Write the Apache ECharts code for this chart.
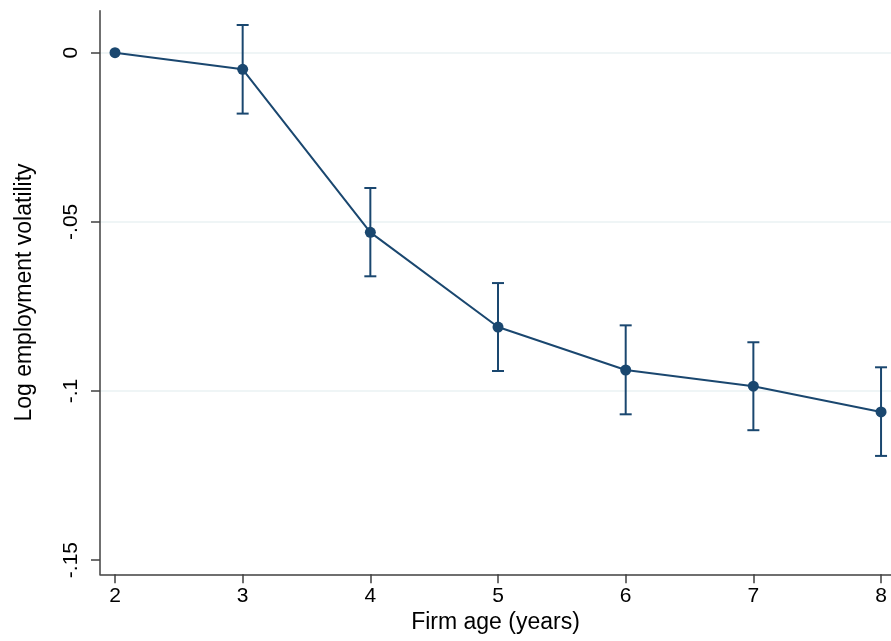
<!DOCTYPE html>
<html>
<head>
<meta charset="utf-8">
<script src="https://cdn.jsdelivr.net/npm/echarts@6/dist/echarts.min.js"></script>
<style>html,body{margin:0;padding:0;background:#fff}#c{width:891px;height:641px}</style>
</head>
<body>
<div id="c"></div>
<script>
var ages = [2, 3, 4, 5, 6, 7, 8];
var estimates = [0, -0.0049, -0.0531, -0.0811, -0.0938, -0.0986, -0.1062];
var ciLower = [null, -0.0180, -0.0661, -0.0941, -0.1069, -0.1116, -0.1192];
var ciUpper = [null, 0.0082, -0.0400, -0.0681, -0.0806, -0.0856, -0.0930];
var xTicks = [2, 3, 4, 5, 6, 7, 8];
var yTicks = [0, -0.05, -0.1, -0.15];
var yTickLabels = ['0', '-.05', '-.1', '-.15'];
var gridValues = [0, -0.05, -0.1];

var navy = '#1a476f';
var font = '"Liberation Sans", Arial, sans-serif';

var lineData = ages.map(function (a, i) { return [a, estimates[i]]; });
var ciData = [];
ages.forEach(function (a, i) {
  if (ciLower[i] !== null) ciData.push([a, ciLower[i], ciUpper[i]]);
});

var chart = echarts.init(document.getElementById('c'), null, {renderer: 'canvas'});
chart.setOption({
  animation: false,
  backgroundColor: '#fff',
  grid: {left: 100, top: 10.7, right: 0, bottom: 66.7, containLabel: false},
  xAxis: {
    type: 'value',
    min: 1.8826, max: 8.078,
    name: 'Firm age (years)',
    nameLocation: 'middle',
    nameGap: 37,
    nameTextStyle: {fontFamily: font, fontSize: 23, color: '#000'},
    axisLine: {show: true, onZero: false, lineStyle: {color: '#404040', width: 1.5}},
    axisTick: {show: true, length: 9, customValues: xTicks, lineStyle: {color: '#404040', width: 1.5}},
    axisLabel: {customValues: xTicks, margin: 11, fontFamily: font, fontSize: 21, color: '#000',
      formatter: function (v) { return String(v); }},
    splitLine: {show: false}
  },
  yAxis: {
    type: 'value',
    min: -0.1542, max: 0.01242,
    name: 'Log employment volatility',
    nameLocation: 'middle',
    nameGap: 64,
    nameRotate: 90,
    nameTextStyle: {fontFamily: font, fontSize: 23, color: '#000'},
    axisLine: {show: true, onZero: false, lineStyle: {color: '#404040', width: 1.5}},
    axisTick: {show: true, length: 9, customValues: yTicks, lineStyle: {color: '#404040', width: 1.5}},
    axisLabel: {customValues: yTicks, rotate: 90, margin: 18, fontFamily: font, fontSize: 21, color: '#000',
      formatter: function (v) {
        for (var i = 0; i < yTicks.length; i++) if (Math.abs(yTicks[i] - v) < 1e-9) return yTickLabels[i];
        return '';
      }},
    splitLine: {show: false}
  },
  series: [
    {
      type: 'line',
      data: [],
      silent: true,
      z: 0,
      markLine: {
        silent: true,
        z: 0,
        symbol: ['none', 'none'],
        label: {show: false},
        emphasis: {disabled: true},
        lineStyle: {color: '#eaf2f3', width: 1.5, type: 'solid'},
        data: gridValues.map(function (v) { return {yAxis: v}; })
      }
    },
    {
      type: 'custom',
      data: ciData,
      z: 3,
      renderItem: function (params, api) {
        var x = api.value(0);
        var lo = api.coord([x, api.value(1)]);
        var hi = api.coord([x, api.value(2)]);
        var hw = 6;
        var st = {stroke: navy, lineWidth: 2, fill: 'none'};
        return {
          type: 'group',
          children: [
            {type: 'line', shape: {x1: lo[0], y1: lo[1], x2: hi[0], y2: hi[1]}, style: st},
            {type: 'line', shape: {x1: lo[0] - hw, y1: lo[1], x2: lo[0] + hw, y2: lo[1]}, style: st},
            {type: 'line', shape: {x1: hi[0] - hw, y1: hi[1], x2: hi[0] + hw, y2: hi[1]}, style: st}
          ]
        };
      }
    },
    {
      type: 'line',
      data: lineData,
      z: 4,
      clip: false,
      symbol: 'circle',
      symbolSize: 11,
      showAllSymbol: true,
      lineStyle: {color: navy, width: 2},
      itemStyle: {color: navy, borderWidth: 0}
    }
  ]
});
</script>
</body>
</html>
